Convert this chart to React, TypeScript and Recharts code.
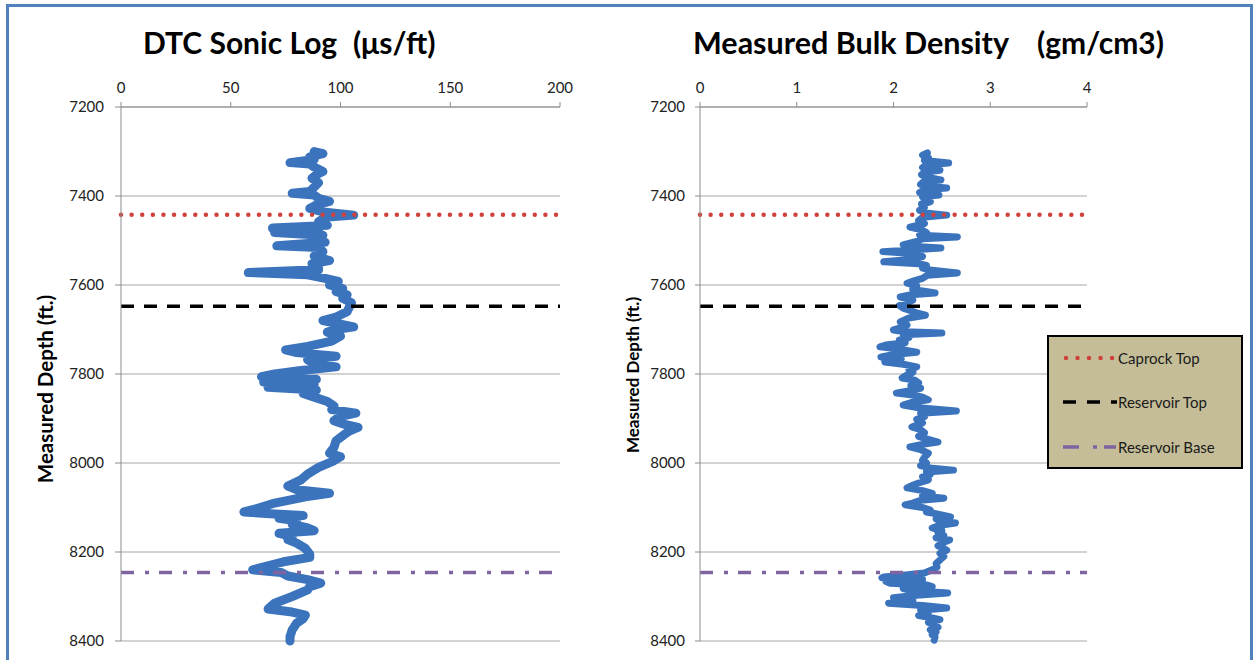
import { LineChart, Line, XAxis, YAxis, CartesianGrid, ReferenceLine } from 'recharts';

// depth (ft) / sonic slowness (us/ft)
const dtcDepth = [
    7300, 7305, 7312, 7318, 7325, 7328, 7335, 7345, 7352, 7360, 7370, 7380, 7390, 7394, 7398, 7405, 7412, 7420,
    7428, 7436, 7443, 7448, 7458, 7466, 7472, 7476, 7482, 7488, 7496, 7504, 7512, 7516, 7525, 7535, 7545, 7552,
    7560, 7566, 7572, 7577, 7585, 7592, 7600, 7608, 7615, 7622, 7630, 7640, 7650, 7660, 7672, 7680, 7688, 7694,
    7700, 7706, 7715, 7726, 7738, 7746, 7752, 7760, 7768, 7776, 7784, 7792, 7800, 7806, 7812, 7818, 7824, 7830,
    7836, 7844, 7852, 7862, 7872, 7880, 7888, 7895, 7905, 7912, 7920, 7928, 7935, 7950, 7965, 7978, 7986, 7995,
    8010, 8025, 8038, 8052, 8060, 8068, 8076, 8090, 8105, 8110, 8114, 8118, 8124, 8130, 8138, 8146, 8152, 8158,
    8165, 8172, 8180, 8192, 8205, 8212, 8222, 8232, 8240, 8246, 8254, 8262, 8270, 8278, 8285, 8300, 8315, 8328,
    8335, 8342, 8350, 8360, 8375, 8390, 8400,
];
const dtcValue = [
    88, 92, 86, 88, 77, 86, 88, 92, 89, 87, 90, 88, 86, 78, 88, 90, 95, 89,
    86, 92, 106, 93, 90, 94, 69, 90, 70, 92, 88, 93, 71, 90, 92, 88, 95, 87,
    90, 90, 58, 85, 93, 99, 95, 101, 98, 103, 101, 105, 104, 103, 98, 92, 100, 106,
    98, 94, 100, 96, 85, 75, 80, 98, 85, 88, 98, 82, 70, 64, 89, 65, 88, 67,
    89, 83, 88, 94, 97, 96, 107, 100, 97, 101, 108, 104, 102, 98, 97, 95, 100, 97,
    90, 85, 82, 76, 80, 95, 84, 70, 60, 56, 68, 83, 72, 80, 78, 85, 88, 72,
    78, 76, 80, 84, 86, 86, 74, 66, 60, 73, 76, 85, 91, 86, 85, 78, 70, 67,
    78, 84, 83, 80, 78, 77, 77,
];

// depth (ft) / bulk density (gm/cm3)
const rhoDepth = [
    7303, 7308, 7314, 7320, 7326, 7330, 7336, 7342, 7346, 7352, 7358, 7364, 7368, 7374, 7378, 7382, 7386, 7392,
    7398, 7402, 7408, 7413, 7418, 7425, 7432, 7438, 7443, 7448, 7455, 7462, 7470, 7476, 7482, 7488, 7492, 7496,
    7502, 7510, 7514, 7517, 7521, 7525, 7530, 7536, 7542, 7548, 7552, 7556, 7562, 7567, 7573, 7578, 7585, 7590,
    7596, 7602, 7610, 7618, 7622, 7627, 7634, 7640, 7646, 7652, 7658, 7664, 7668, 7674, 7683, 7690, 7696, 7701,
    7705, 7708, 7712, 7718, 7724, 7730, 7735, 7739, 7744, 7751, 7756, 7762, 7767, 7773, 7778, 7784, 7790, 7796,
    7802, 7809, 7814, 7820, 7826, 7832, 7838, 7843, 7848, 7852, 7858, 7863, 7870, 7876, 7883, 7888, 7896, 7902,
    7910, 7919, 7925, 7932, 7940, 7947, 7953, 7958, 7964, 7970, 7978, 7987, 7994, 8000, 8006, 8012, 8016, 8020,
    8026, 8031, 8038, 8045, 8050, 8056, 8062, 8068, 8074, 8079, 8084, 8090, 8094, 8100, 8106, 8110, 8115, 8121,
    8126, 8131, 8135, 8140, 8146, 8152, 8157, 8163, 8168, 8173, 8180, 8186, 8192, 8196, 8203, 8210, 8218, 8226,
    8234, 8240, 8247, 8252, 8256, 8258, 8262, 8266, 8270, 8274, 8278, 8282, 8287, 8292, 8297, 8303, 8309, 8315,
    8320, 8326, 8331, 8337, 8343, 8348, 8352, 8358, 8364, 8369, 8375, 8380, 8386, 8391, 8398,
];
const rhoValue = [
    2.35, 2.30, 2.36, 2.32, 2.57, 2.34, 2.30, 2.48, 2.33, 2.29, 2.34, 2.49, 2.31, 2.28, 2.35, 2.55, 2.32, 2.27,
    2.47, 2.30, 2.34, 2.38, 2.29, 2.32, 2.27, 2.33, 2.55, 2.30, 2.26, 2.32, 2.17, 2.29, 2.34, 2.27, 2.66, 2.30,
    2.24, 2.10, 2.28, 2.49, 2.22, 1.89, 2.24, 2.30, 2.20, 1.90, 2.26, 2.34, 2.30, 2.40, 2.66, 2.35, 2.30, 2.22,
    2.14, 2.24, 2.20, 2.43, 2.18, 2.07, 2.20, 2.14, 2.06, 2.10, 2.18, 2.26, 2.33, 2.16, 2.07, 2.14, 2.08, 2.00,
    2.12, 2.50, 2.10, 2.16, 2.06, 2.12, 1.92, 1.86, 2.06, 2.24, 2.00, 1.87, 2.08, 1.91, 2.10, 2.24, 2.16, 2.20,
    2.14, 2.09, 2.22, 2.26, 2.18, 2.28, 2.15, 2.03, 2.22, 2.30, 2.36, 2.20, 2.10, 2.26, 2.65, 2.28, 2.32, 2.24,
    2.30, 2.19, 2.28, 2.32, 2.26, 2.36, 2.46, 2.30, 2.17, 2.28, 2.36, 2.32, 2.30, 2.34, 2.28, 2.40, 2.62, 2.34,
    2.38, 2.30, 2.36, 2.26, 2.20, 2.14, 2.30, 2.40, 2.30, 2.52, 2.28, 2.20, 2.12, 2.30, 2.38, 2.34, 2.46, 2.59,
    2.44, 2.52, 2.64, 2.48, 2.40, 2.50, 2.46, 2.52, 2.44, 2.58, 2.50, 2.46, 2.52, 2.55, 2.48, 2.52, 2.48, 2.44,
    2.45, 2.40, 2.32, 2.10, 1.90, 1.88, 2.30, 1.92, 1.96, 2.34, 2.40, 2.10, 2.20, 2.56, 2.24, 2.00, 2.20, 1.95,
    2.30, 2.55, 2.28, 2.36, 2.26, 2.40, 2.48, 2.36, 2.42, 2.46, 2.38, 2.44, 2.40, 2.43, 2.42,
];

const depthTicks = [7200, 7400, 7600, 7800, 8000, 8200, 8400];
const dtcTicks = [0, 50, 100, 150, 200];
const rhoTicks = [0, 1, 2, 3, 4];

const markerNames = ['Caprock Top', 'Reservoir Top', 'Reservoir Base'];
const markerDepths = [7442, 7648, 8246];

const FONT = 'Lato, "Open Sans", sans-serif';
const BLUE = '#3b74bd';
const GRID = '#a6a6a6';

const markerStyles = [
    { stroke: '#d0413c', strokeWidth: 4.5, strokeDasharray: '0.01 10.6', strokeLinecap: 'round' as const },
    { stroke: '#000000', strokeWidth: 3.5, strokeDasharray: '13 10', strokeLinecap: 'butt' as const },
    { stroke: '#8064a2', strokeWidth: 3.5, strokeDasharray: '13 11 4 10', strokeLinecap: 'butt' as const },
];
const legendDash = ['0.01 11.5', '13 11', '16 14 4 7 12 100'];

const dtcData = dtcDepth.map((depth, i) => ({ depth, dtc: dtcValue[i] }));
const rhoData = rhoDepth.map((depth, i) => ({ depth, rho: rhoValue[i] }));

const tickStyle = { fill: '#222', fontSize: 15, fontFamily: FONT };

function DepthLog({ data, dataKey, xTicks, width, margin, strokeWidth, yTickSize, yTickMargin }: any) {
    return (
        <LineChart layout="vertical" width={width} height={660} data={data} margin={margin}>
            <CartesianGrid vertical={false} stroke={GRID} />
            <XAxis
                type="number"
                orientation="top"
                domain={[xTicks[0], xTicks[xTicks.length - 1]]}
                ticks={xTicks}
                height={30}
                tickSize={5}
                tickMargin={9}
                stroke="#8c8c8c"
                tick={tickStyle}
            />
            <YAxis
                type="number"
                dataKey="depth"
                domain={[7200, 8400]}
                ticks={depthTicks}
                width={60}
                tickSize={yTickSize}
                tickMargin={yTickMargin}
                stroke="#8c8c8c"
                tick={tickStyle}
            />
            <Line
                dataKey={dataKey}
                type="linear"
                stroke={BLUE}
                strokeWidth={strokeWidth}
                strokeLinejoin="round"
                strokeLinecap="round"
                dot={false}
                activeDot={false}
                isAnimationActive={false}
            />
            {markerDepths.map((d, i) => (
                <ReferenceLine key={markerNames[i]} y={d} {...markerStyles[i]} />
            ))}
        </LineChart>
    );
}

const titleStyle = {
    position: 'absolute' as const,
    top: 26,
    fontFamily: FONT,
    fontWeight: 700,
    fontSize: 30,
    lineHeight: '32px',
    color: '#000',
    whiteSpace: 'nowrap' as const,
};

function AxisTitle({ x, y, size }: { x: number; y: number; size: number }) {
    return (
        <div
            style={{
                position: 'absolute',
                left: x,
                top: y,
                transform: 'translate(-50%, -50%) rotate(-90deg)',
                fontFamily: FONT,
                fontWeight: 700,
                fontSize: size,
                whiteSpace: 'nowrap',
                color: '#000',
            }}
        >
            Measured Depth (ft.)
        </div>
    );
}

export default function App() {
    const rowY = [23, 67, 112];
    return (
        <div style={{ position: 'absolute', left: 0, top: 0, width: 1255, height: 660, background: '#fff', overflow: 'hidden' }}>
            <div
                style={{
                    position: 'absolute',
                    left: 6,
                    top: 4,
                    width: 1247,
                    height: 720,
                    boxSizing: 'border-box',
                    border: '3px solid #4f81bd',
                }}
            />
            <div style={titleStyle}>
                <span style={{ position: 'absolute', left: 143 }}>DTC Sonic Log</span>
                <span style={{ position: 'absolute', left: 353 }}>(μs/ft)</span>
                <span style={{ position: 'absolute', left: 693, fontSize: 30.5 }}>Measured Bulk Density</span>
                <span style={{ position: 'absolute', left: 1037 }}>(gm/cm3)</span>
            </div>
            <AxisTitle x={45} y={389} size={20.5} />
            <AxisTitle x={632} y={375} size={17} />

            <div style={{ position: 'absolute', left: 0, top: 0 }}>
                <DepthLog
                    data={dtcData}
                    dataKey="dtc"
                    xTicks={dtcTicks}
                    width={620}
                    margin={{ top: 77, right: 60, bottom: 19, left: 61 }}
                    strokeWidth={9}
                    yTickSize={6}
                    yTickMargin={11}
                />
            </div>
            <div style={{ position: 'absolute', left: 620, top: 0 }}>
                <DepthLog
                    data={rhoData}
                    dataKey="rho"
                    xTicks={rhoTicks}
                    width={635}
                    margin={{ top: 77, right: 168, bottom: 19, left: 20 }}
                    strokeWidth={7}
                    yTickSize={5}
                    yTickMargin={10}
                />
            </div>

            <div
                style={{
                    position: 'absolute',
                    left: 1047,
                    top: 335,
                    width: 196,
                    height: 134,
                    boxSizing: 'border-box',
                    border: '2px solid #000',
                    background: '#c4bd97',
                    fontFamily: FONT,
                    fontSize: 15,
                    color: '#1a1a1a',
                }}
            >
                {markerNames.map((name, i) => (
                    <div key={name} style={{ position: 'absolute', left: 0, top: rowY[i] - 12, height: 20, width: 190 }}>
                        <svg width={56} height={20} style={{ position: 'absolute', left: 14, top: 0 }}>
                            <line
                                x1={i === 0 ? 3 : 0}
                                x2={i === 0 ? 50 : 54}
                                y1={10}
                                y2={10}
                                stroke={markerStyles[i].stroke}
                                strokeWidth={markerStyles[i].strokeWidth}
                                strokeDasharray={legendDash[i]}
                                strokeLinecap={markerStyles[i].strokeLinecap}
                            />
                        </svg>
                        <span style={{ position: 'absolute', left: 69, top: 0, lineHeight: '20px', whiteSpace: 'nowrap' }}>{name}</span>
                    </div>
                ))}
            </div>
        </div>
    );
}
